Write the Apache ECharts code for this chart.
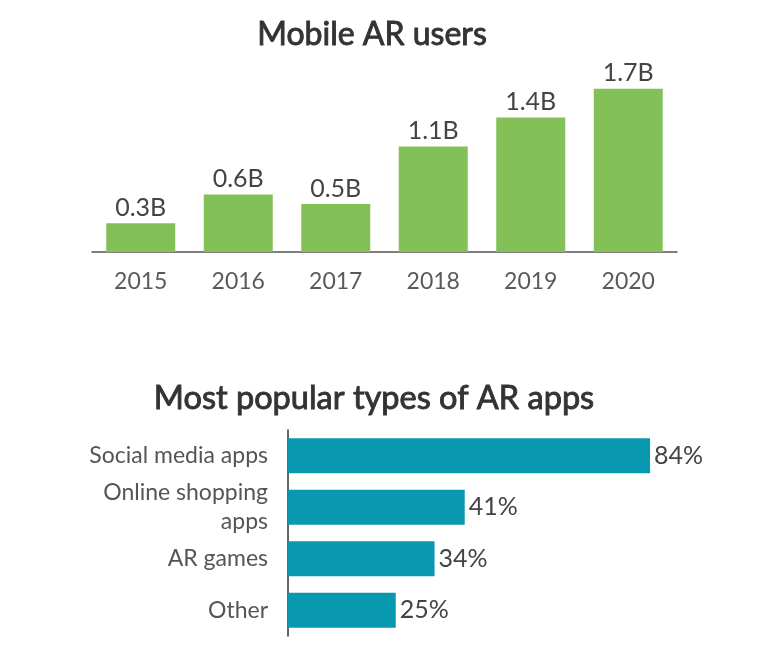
<!DOCTYPE html>
<html>
<head>
<meta charset="utf-8">
<script src="https://cdn.jsdelivr.net/npm/echarts@6/dist/echarts.min.js"></script>
<style>
html,body{margin:0;padding:0;background:#fff;}
#chart{width:767px;height:660px;}
</style>
</head>
<body>
<div id="chart"></div>
<script>
var years = ['2015', '2016', '2017', '2018', '2019', '2020'];
var users = [0.3, 0.6, 0.5, 1.1, 1.4, 1.7];
var appTypes = ['Social media apps', 'Online shopping\napps', 'AR games', 'Other'];
var appShares = [84, 41, 34, 25];

var FONT = 'Lato, "Open Sans", sans-serif';
var chart = echarts.init(document.getElementById('chart'), null, {renderer: 'canvas'});
chart.setOption({
  backgroundColor: '#ffffff',
  animation: false,
  title: [
    {text: 'Mobile AR users', left: 367, top: 14, textAlign: 'center',
     textStyle: {fontFamily: FONT, fontSize: 32, fontWeight: 'normal', color: '#333333',
                 textBorderColor: '#333333', textBorderWidth: 0.9}},
    {text: 'Most popular types of AR apps', left: 369, top: 377, textAlign: 'center',
     textStyle: {fontFamily: FONT, fontSize: 32.5, fontWeight: 'normal', color: '#333333',
                 textBorderColor: '#333333', textBorderWidth: 0.9}}
  ],
  grid: [
    {left: 92, right: 90, top: 60, bottom: 408},
    {left: 288, right: 48, top: 430, bottom: 24}
  ],
  xAxis: [
    {type: 'category', gridIndex: 0, data: years,
     axisLine: {show: true, lineStyle: {color: '#555555', width: 1.5}},
     axisTick: {show: false},
     axisLabel: {fontFamily: FONT, fontSize: 23, color: '#5a5a5a', margin: 18}},
    {type: 'value', gridIndex: 1, min: 0, max: 100, show: false}
  ],
  yAxis: [
    {type: 'value', gridIndex: 0, min: 0, max: 2, show: false},
    {type: 'category', gridIndex: 1, data: appTypes, inverse: true,
     axisLine: {show: true, lineStyle: {color: '#333333', width: 1.5}},
     axisTick: {show: false},
     axisLabel: {fontFamily: FONT, fontSize: 23, color: '#555555', margin: 20, lineHeight: 29, align: 'right'}}
  ],
  series: [
    {type: 'bar', xAxisIndex: 0, yAxisIndex: 0, data: users, barWidth: 69,
     itemStyle: {color: '#83c158'},
     label: {show: true, position: 'top', distance: 3, formatter: '{c}B',
             fontFamily: FONT, fontSize: 25, color: '#444444'}},
    {type: 'bar', xAxisIndex: 1, yAxisIndex: 1, data: appShares, barWidth: 35,
     itemStyle: {color: '#0898b0'},
     label: {show: true, position: 'right', distance: 4, formatter: '{c}%',
             fontFamily: FONT, fontSize: 25, color: '#444444'}}
  ]
});
</script>
</body>
</html>
